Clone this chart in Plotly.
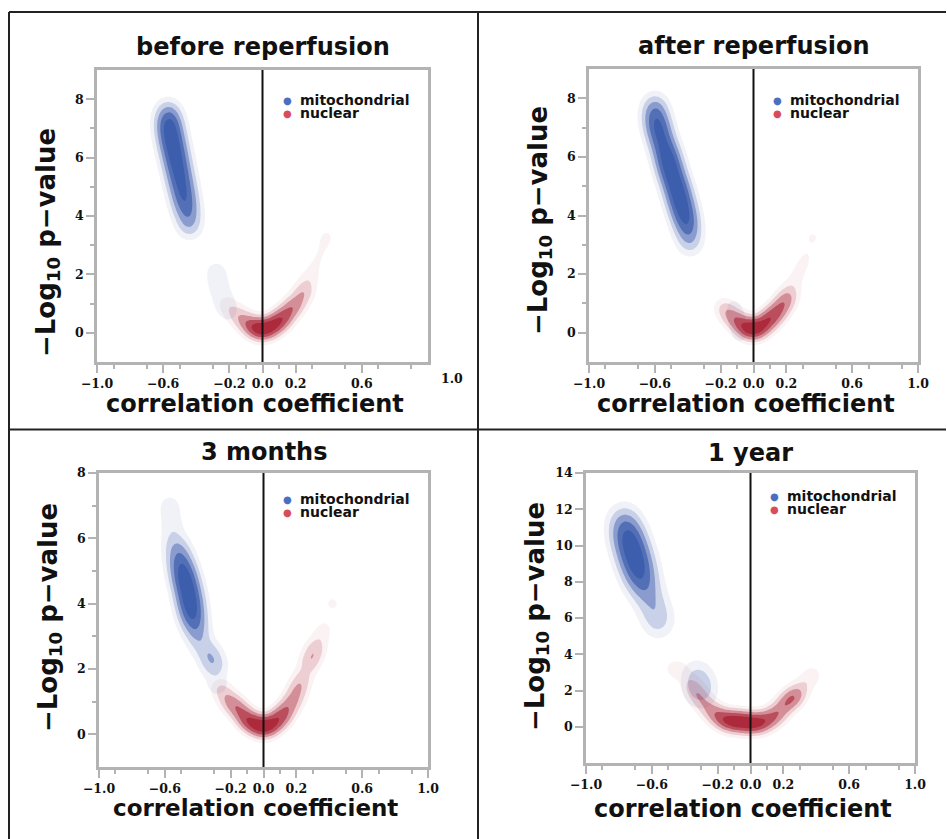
import numpy as np
import plotly.graph_objects as go

W, H = 947, 839

# ---------------- data ----------------
PANEL_TITLES = ["before reperfusion", "after reperfusion", "3 months", "1 year"]
SERIES_NAMES = ["mitochondrial", "nuclear"]

# ridge samples of the density clouds: x = correlation, y = -log10 p, w = relative density
BEFORE_MITO_X = [-0.57, -0.565, -0.555, -0.54, -0.525, -0.51, -0.495, -0.48, -0.465, -0.45, -0.44, -0.28, -0.265, -0.235, -0.205]
BEFORE_MITO_Y = [7.6, 7.2, 6.8, 6.4, 6.0, 5.6, 5.2, 4.8, 4.4, 4.0, 3.6, 2.1, 1.6, 1.1, 0.7]
BEFORE_MITO_W = [0.4, 0.9, 1.0, 1.0, 0.95, 0.9, 0.85, 0.8, 0.7, 0.5, 0.3, 0.16, 0.16, 0.16, 0.14]
BEFORE_NUC_X = [-0.22, -0.17, -0.12, -0.07, -0.03, 0.01, 0.05, 0.09, 0.13, 0.17, 0.21, 0.25, 0.28, 0.31, 0.34, 0.37, 0.39]
BEFORE_NUC_Y = [1.0, 0.7, 0.45, 0.25, 0.12, 0.1, 0.2, 0.35, 0.55, 0.8, 1.05, 1.4, 1.8, 2.2, 2.6, 3.0, 3.35]
BEFORE_NUC_W = [0.2, 0.35, 0.55, 0.8, 1.0, 1.0, 1.0, 1.0, 0.9, 0.7, 0.6, 0.55, 0.25, 0.14, 0.12, 0.12, 0.14]

AFTER_MITO_X = [-0.6, -0.595, -0.58, -0.56, -0.535, -0.515, -0.495, -0.47, -0.45, -0.43, -0.41, -0.395, -0.385, -0.12, -0.1, -0.08]
AFTER_MITO_Y = [7.8, 7.4, 7.0, 6.6, 6.2, 5.8, 5.4, 5.0, 4.6, 4.2, 3.8, 3.4, 3.0, 0.9, 0.4, -0.1]
AFTER_MITO_W = [0.35, 0.7, 0.85, 0.8, 0.9, 1.0, 1.0, 1.0, 1.0, 0.95, 0.8, 0.5, 0.25, 0.12, 0.14, 0.12]
AFTER_NUC_X = [-0.18, -0.14, -0.1, -0.06, -0.02, 0.02, 0.06, 0.1, 0.14, 0.18, 0.21, 0.24, 0.27, 0.3, 0.33, 0.36]
AFTER_NUC_Y = [0.85, 0.6, 0.4, 0.22, 0.1, 0.12, 0.27, 0.47, 0.7, 0.97, 1.25, 1.6, 2.0, 2.35, 2.7, 3.25]
AFTER_NUC_W = [0.35, 0.5, 0.6, 0.85, 1.0, 0.95, 0.9, 0.9, 0.85, 0.7, 0.5, 0.2, 0.14, 0.13, 0.1, 0.16]

MONTHS_MITO_X = [-0.57, -0.56, -0.545, -0.52, -0.5, -0.48, -0.46, -0.445, -0.43, -0.41, -0.385, -0.33, -0.3, -0.28, -0.05, -0.04]
MONTHS_MITO_Y = [7.0, 6.5, 6.0, 5.6, 5.2, 4.8, 4.4, 4.0, 3.6, 3.2, 2.8, 2.45, 2.1, 1.5, 0.6, -0.3]
MONTHS_MITO_W = [0.15, 0.15, 0.2, 0.45, 0.75, 1.0, 1.0, 1.0, 0.8, 0.45, 0.25, 0.32, 0.32, 0.16, 0.1, 0.1]
MONTHS_NUC_X = [-0.26, -0.22, -0.18, -0.14, -0.1, -0.05, 0.0, 0.05, 0.1, 0.14, 0.18, 0.21, 0.24, 0.28, 0.31, 0.34, 0.37, 0.42]
MONTHS_NUC_Y = [1.4, 1.1, 0.9, 0.7, 0.45, 0.3, 0.2, 0.3, 0.5, 0.75, 1.05, 1.4, 1.75, 2.2, 2.55, 2.9, 3.25, 4.0]
MONTHS_NUC_W = [0.3, 0.4, 0.5, 0.6, 0.85, 1.0, 1.0, 1.0, 0.85, 0.65, 0.55, 0.5, 0.35, 0.45, 0.45, 0.2, 0.14, 0.15]

YEAR_MITO_X = [-0.77, -0.76, -0.74, -0.72, -0.7, -0.68, -0.66, -0.63, -0.6, -0.57, -0.56, -0.33, -0.31, -0.3]
YEAR_MITO_Y = [11.6, 11.0, 10.4, 9.8, 9.2, 8.6, 8.0, 7.4, 6.8, 6.2, 5.6, 3.0, 2.4, 1.8]
YEAR_MITO_W = [0.3, 0.65, 0.95, 1.0, 1.0, 0.9, 0.65, 0.4, 0.3, 0.3, 0.25, 0.2, 0.35, 0.3]
YEAR_NUC_X = [-0.47, -0.42, -0.37, -0.34, -0.3, -0.25, -0.2, -0.15, -0.1, -0.05, 0.0, 0.05, 0.1, 0.15, 0.19, 0.23, 0.27, 0.31, 0.35, 0.38]
YEAR_NUC_Y = [3.2, 3.1, 2.5, 2.0, 1.5, 1.0, 0.6, 0.35, 0.3, 0.25, 0.2, 0.2, 0.35, 0.6, 1.0, 1.4, 1.7, 2.1, 2.6, 2.9]
YEAR_NUC_W = [0.15, 0.16, 0.2, 0.4, 0.45, 0.5, 0.65, 0.85, 1.0, 1.0, 1.0, 0.9, 0.7, 0.6, 0.5, 0.6, 0.6, 0.25, 0.14, 0.14]

X_LABEL_VALS = [-1.0, -0.6, -0.2, 0.0, 0.2, 0.6, 1.0]
X_LABEL_TEXT = ["\u22121.0", "\u22120.6", "\u22120.2", "0.0", "0.2", "0.6", "1.0"]
X_UNLABELED_VALS = [-0.8, -0.4, 0.4, 0.8]
X_MINOR_VALS = [-0.9, -0.7, -0.5, -0.3, -0.1, 0.1, 0.3, 0.5, 0.7, 0.9]
Y_RANGES = [[-1, 9], [-1, 9], [-1, 8], [-2, 14]]
Y_TICK_VALS = [[0, 2, 4, 6, 8], [0, 2, 4, 6, 8], [0, 2, 4, 6, 8], [0, 2, 4, 6, 8, 10, 12, 14]]
Y_MINOR_VALS = [[1, 3, 5, 7], [1, 3, 5, 7], [1, 3, 5, 7], []]

PANEL_DATA = [
    [(BEFORE_MITO_X, BEFORE_MITO_Y, BEFORE_MITO_W), (BEFORE_NUC_X, BEFORE_NUC_Y, BEFORE_NUC_W)],
    [(AFTER_MITO_X, AFTER_MITO_Y, AFTER_MITO_W), (AFTER_NUC_X, AFTER_NUC_Y, AFTER_NUC_W)],
    [(MONTHS_MITO_X, MONTHS_MITO_Y, MONTHS_MITO_W), (MONTHS_NUC_X, MONTHS_NUC_Y, MONTHS_NUC_W)],
    [(YEAR_MITO_X, YEAR_MITO_Y, YEAR_MITO_W), (YEAR_NUC_X, YEAR_NUC_Y, YEAR_NUC_W)],
]

# ---------------- layout / style ----------------
# plot areas in pixels: (left, right, top, bottom)
BOXES = [(97, 428, 70, 362), (589, 918, 69, 362), (99, 428, 473, 767), (586, 915, 473, 763)]
SIGMA_PX = [[8.5, 7.0], [8.5, 7.0], [8.5, 7.0], [10.5, 7.0]]  # kernel width (screen px), mito / nuclear
BASE_RGB = [(60, 92, 172), (170, 38, 56)]
BAND_ALPHA = [[0.0, 0.08, 0.22, 0.45, 0.70, 0.92], [0.0, 0.06, 0.17, 0.38, 0.62, 0.88]]
DOT_COLORS = ["#4a6fc0", "#d84c5c"]
FONT = "DejaVu Sans"
GRAY = "#b3b3b3"
TITLE_Y = [47, 46, 452, 453]
XTITLE_Y = [404, 404, 808, 809]
XTITLE_SIZE = [24, 24, 23, 24]
YTITLE_Y = [243, 221, 618, 617]
LEGEND_Y = [100, 100, 499, 496]


def step_scale(rgb, alphas):
    bounds = [0.0, 0.1, 0.3, 0.5, 0.7, 0.9, 1.0]
    cs = []
    for i, a in enumerate(alphas):
        c = "rgba(%d,%d,%d,%.3f)" % (rgb[0], rgb[1], rgb[2], a)
        cs.append([bounds[i], c])
        cs.append([bounds[i + 1], c])
    return cs


def px_x(v):
    return v / W


def px_y(v):
    return 1 - v / H


fig = go.Figure()
annotations = []
shapes = []
tickfont = dict(family="DejaVu Serif", size=12.5, color="#111", weight="bold")

for p in range(4):
    L, R, T, B = BOXES[p]
    xr = [-1.0, 1.0]
    yr = Y_RANGES[p]
    ax = "" if p == 0 else str(p + 1)
    xs = np.linspace(xr[0], xr[1], 201)
    ys = np.linspace(yr[0], yr[1], 161)
    X, Y = np.meshgrid(xs, ys)
    ppx = (R - L) / (xr[1] - xr[0])
    ppy = (B - T) / (yr[1] - yr[0])
    for s in range(2):
        sx, sy, sw = PANEL_DATA[p][s]
        bx = SIGMA_PX[p][s] / ppx
        by = SIGMA_PX[p][s] / ppy
        Z = np.zeros_like(X)
        for xi, yi, wi in zip(sx, sy, sw):
            Z += wi * np.exp(-0.5 * ((X - xi) / bx) ** 2 - 0.5 * ((Y - yi) / by) ** 2)
        Z = np.sqrt(Z / Z.max())
        fig.add_trace(go.Contour(
            x=xs, y=np.round(ys, 4), z=np.round(Z, 3),
            xaxis="x" + ax, yaxis="y" + ax,
            colorscale=step_scale(BASE_RGB[s], BAND_ALPHA[s]),
            showscale=False,
            contours=dict(start=0.25, end=0.85, size=0.15, coloring="fill", showlines=False),
            line=dict(width=0, smoothing=1.2),
            hoverinfo="skip", name=SERIES_NAMES[s], showlegend=False,
        ))

    text = list(X_LABEL_TEXT)
    vals = list(X_LABEL_VALS)
    if p == 0:
        vals = vals[:-1]
        text = text[:-1]
    axis_common = dict(showline=True, mirror=True, linecolor=GRAY, linewidth=2.5,
                       ticks="outside", ticklen=8, tickwidth=2, tickcolor=GRAY,
                       showgrid=False, zeroline=False, automargin=False, tickfont=tickfont)
    fig.update_layout(**{
        "xaxis" + ax: dict(domain=[px_x(L), px_x(R)], range=xr, anchor="y" + ax,
                           tickmode="array", tickvals=vals, ticktext=text,
                           minor=dict(tickmode="array", tickvals=X_MINOR_VALS, ticklen=4,
                                      tickwidth=2, tickcolor=GRAY, ticks="outside"),
                           **axis_common),
        "yaxis" + ax: dict(domain=[px_y(B), px_y(T)], range=yr, anchor="x" + ax,
                           tickmode="array", tickvals=Y_TICK_VALS[p],
                           ticktext=[str(v) for v in Y_TICK_VALS[p]],
                           minor=dict(tickmode="array", tickvals=Y_MINOR_VALS[p], ticklen=4,
                                      tickwidth=2, tickcolor=GRAY, ticks="outside"),
                           **axis_common),
        # overlay axis that carries the long, unlabeled x ticks
        "xaxis" + str(p + 5): dict(overlaying="x" + ax, anchor="y" + ax, side="bottom", range=xr,
                                   tickmode="array", tickvals=X_UNLABELED_VALS + ([1.0] if p == 0 else []),
                                   showticklabels=False, ticks="outside", ticklen=8, tickwidth=2,
                                   tickcolor=GRAY, showline=False, showgrid=False, zeroline=False,
                                   automargin=False),
    })
    # zero line
    shapes.append(dict(type="line", xref="x" + ax, yref="y" + ax + " domain", x0=0, x1=0, y0=0, y1=1,
                       line=dict(color="#111", width=2), layer="above"))
    cx = (L + R) / 2
    annotations.append(dict(text=PANEL_TITLES[p], xref="paper", yref="paper",
                            x=px_x(cx), y=px_y(TITLE_Y[p]), xanchor="center", yanchor="middle",
                            showarrow=False, font=dict(family=FONT, size=24, color="#111", weight="bold")))
    annotations.append(dict(text="correlation coefficient", xref="paper", yref="paper",
                            x=px_x(cx - 8), y=px_y(XTITLE_Y[p]), xanchor="center", yanchor="middle",
                            showarrow=False, borderpad=0,
                            font=dict(family=FONT, size=XTITLE_SIZE[p], color="#111", weight="bold")))
    annotations.append(dict(text="\u2212Log<sub>10</sub> p\u2212value", xref="paper", yref="paper",
                            x=px_x(L - 50), y=px_y(YTITLE_Y[p]), xanchor="center", yanchor="middle", textangle=-90,
                            showarrow=False, font=dict(family=FONT, size=26, color="#111", weight="bold")))
    dot_x = R - 141
    for s in range(2):
        yy = LEGEND_Y[p] + 13 * s
        annotations.append(dict(text="\u25cf", xref="paper", yref="paper", x=px_x(dot_x), y=px_y(yy),
                                xanchor="center", yanchor="middle", showarrow=False, borderpad=0,
                                font=dict(family=FONT, size=10, color=DOT_COLORS[s])))
        annotations.append(dict(text=SERIES_NAMES[s], xref="paper", yref="paper", x=px_x(dot_x + 12), y=px_y(yy),
                                xanchor="left", yanchor="middle", showarrow=False, borderpad=0,
                                font=dict(family=FONT, size=14, color="#111", weight="bold")))

# the first panel's "1.0" label sits to the right of its axis end
annotations.append(dict(text="1.0", xref="paper", yref="paper", x=px_x(452), y=px_y(378),
                        xanchor="center", yanchor="middle", showarrow=False, font=tickfont))

FRAME = "#222"
shapes += [
    dict(type="line", xref="paper", yref="paper", x0=px_x(9), x1=px_x(946), y0=px_y(12), y1=px_y(12), line=dict(color=FRAME, width=2)),
    dict(type="line", xref="paper", yref="paper", x0=px_x(9), x1=px_x(9), y0=px_y(12), y1=px_y(839), line=dict(color=FRAME, width=2)),
    dict(type="line", xref="paper", yref="paper", x0=px_x(478), x1=px_x(478), y0=px_y(12), y1=px_y(839), line=dict(color=FRAME, width=2)),
    dict(type="line", xref="paper", yref="paper", x0=px_x(9), x1=px_x(946), y0=px_y(429.5), y1=px_y(429.5), line=dict(color=FRAME, width=2)),
]

fig.update_layout(width=W, height=H, margin=dict(l=0, r=0, t=0, b=0, pad=0, autoexpand=False),
                  paper_bgcolor="white", plot_bgcolor="white", showlegend=False,
                  annotations=annotations, shapes=shapes)
fig.write_html("out.html", config={"displayModeBar": False},
               post_script="document.body.style.margin='0';document.body.style.overflow='hidden';")
